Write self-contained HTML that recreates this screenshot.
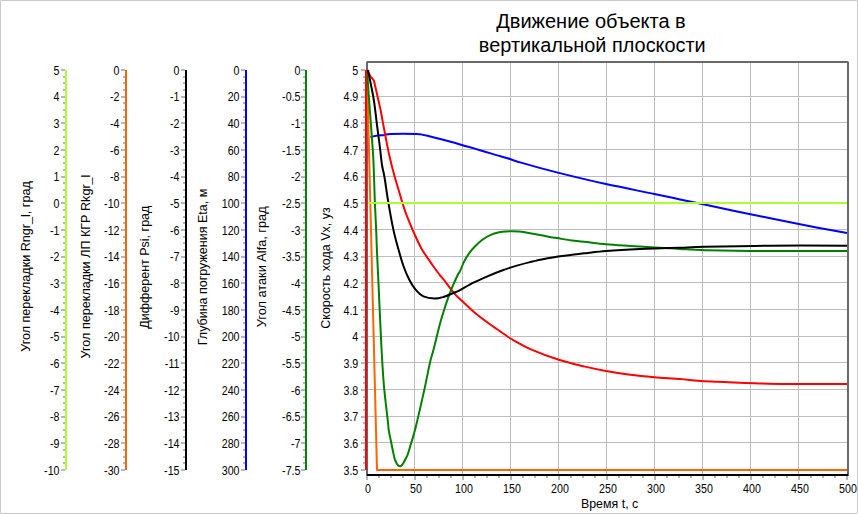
<!DOCTYPE html>
<html lang="ru"><head><meta charset="utf-8"><title>Движение объекта в вертикальной плоскости</title>
<style>
html,body{margin:0;padding:0;background:#fff;}
body{width:858px;height:514px;overflow:hidden;font-family:"Liberation Sans",Arial,sans-serif;}
svg{display:block;}
text{font-family:"Liberation Sans",Arial,sans-serif;fill:#000;}
.lb{font-size:10.67px;}
.at{font-size:12.5px;}
.tt{font-size:20px;}
</style></head><body>
<svg width="858" height="514" viewBox="0 0 858 514">
<rect x="0" y="0" width="858" height="514" fill="#ffffff"/>
<rect x="0.5" y="0.5" width="857" height="513" fill="none" stroke="#cbc9c9" stroke-width="1" shape-rendering="crispEdges"/>
<g fill="#e3e2e2" shape-rendering="crispEdges"><rect x="0" y="0" width="1" height="1"/><rect x="857" y="0" width="1" height="1"/><rect x="0" y="513" width="1" height="1"/><rect x="857" y="513" width="1" height="1"/></g>
<text class="tt" x="591" y="28" text-anchor="middle">Движение объекта в</text>
<text class="tt" x="592.3" y="52.3" text-anchor="middle" style="font-size:19.9px">вертикальной плоскости</text>
<g shape-rendering="crispEdges">
<rect x="368" y="96" width="479" height="1" fill="#bdbdbd"/>
<rect x="368" y="122" width="479" height="1" fill="#bdbdbd"/>
<rect x="368" y="149" width="479" height="1" fill="#bdbdbd"/>
<rect x="368" y="176" width="479" height="1" fill="#bdbdbd"/>
<rect x="368" y="202" width="479" height="1" fill="#bdbdbd"/>
<rect x="368" y="229" width="479" height="1" fill="#bdbdbd"/>
<rect x="368" y="256" width="479" height="1" fill="#bdbdbd"/>
<rect x="368" y="282" width="479" height="1" fill="#bdbdbd"/>
<rect x="368" y="309" width="479" height="1" fill="#bdbdbd"/>
<rect x="368" y="336" width="479" height="1" fill="#bdbdbd"/>
<rect x="368" y="362" width="479" height="1" fill="#bdbdbd"/>
<rect x="368" y="389" width="479" height="1" fill="#bdbdbd"/>
<rect x="368" y="416" width="479" height="1" fill="#bdbdbd"/>
<rect x="368" y="442" width="479" height="1" fill="#bdbdbd"/>
<rect x="414" y="63" width="1" height="411" fill="#bdbdbd"/>
<rect x="462" y="63" width="1" height="411" fill="#bdbdbd"/>
<rect x="510" y="63" width="1" height="411" fill="#bdbdbd"/>
<rect x="558" y="63" width="1" height="411" fill="#bdbdbd"/>
<rect x="606" y="63" width="1" height="411" fill="#bdbdbd"/>
<rect x="654" y="63" width="1" height="411" fill="#bdbdbd"/>
<rect x="702" y="63" width="1" height="411" fill="#bdbdbd"/>
<rect x="750" y="63" width="1" height="411" fill="#bdbdbd"/>
<rect x="798" y="63" width="1" height="411" fill="#bdbdbd"/>
</g>
<path d="M61 70H65M63 77H65M63 83H65M63 90H65M61 97H65M63 103H65M63 110H65M63 117H65M61 123H65M63 130H65M63 137H65M63 143H65M61 150H65M63 157H65M63 163H65M63 170H65M61 177H65M63 183H65M63 190H65M63 197H65M61 203H65M63 210H65M63 217H65M63 223H65M61 230H65M63 237H65M63 243H65M63 250H65M61 257H65M63 263H65M63 270H65M63 277H65M61 283H65M63 290H65M63 297H65M63 303H65M61 310H65M63 317H65M63 323H65M63 330H65M61 337H65M63 343H65M63 350H65M63 357H65M61 363H65M63 370H65M63 377H65M63 383H65M61 390H65M63 397H65M63 403H65M63 410H65M61 417H65M63 423H65M63 430H65M63 437H65M61 443H65M63 450H65M63 457H65M63 463H65M61 470H65" stroke="#707070" stroke-width="1" fill="none"/>
<rect x="65" y="70" width="2" height="400" fill="#adff2f" shape-rendering="crispEdges"/>
<path d="M121 70H125M123 77H125M123 83H125M123 90H125M121 97H125M123 103H125M123 110H125M123 117H125M121 123H125M123 130H125M123 137H125M123 143H125M121 150H125M123 157H125M123 163H125M123 170H125M121 177H125M123 183H125M123 190H125M123 197H125M121 203H125M123 210H125M123 217H125M123 223H125M121 230H125M123 237H125M123 243H125M123 250H125M121 257H125M123 263H125M123 270H125M123 277H125M121 283H125M123 290H125M123 297H125M123 303H125M121 310H125M123 317H125M123 323H125M123 330H125M121 337H125M123 343H125M123 350H125M123 357H125M121 363H125M123 370H125M123 377H125M123 383H125M121 390H125M123 397H125M123 403H125M123 410H125M121 417H125M123 423H125M123 430H125M123 437H125M121 443H125M123 450H125M123 457H125M123 463H125M121 470H125" stroke="#707070" stroke-width="1" fill="none"/>
<rect x="125" y="70" width="2" height="400" fill="#ff6400" shape-rendering="crispEdges"/>
<path d="M181 70H185M183 77H185M183 83H185M183 90H185M181 97H185M183 103H185M183 110H185M183 117H185M181 123H185M183 130H185M183 137H185M183 143H185M181 150H185M183 157H185M183 163H185M183 170H185M181 177H185M183 183H185M183 190H185M183 197H185M181 203H185M183 210H185M183 217H185M183 223H185M181 230H185M183 237H185M183 243H185M183 250H185M181 257H185M183 263H185M183 270H185M183 277H185M181 283H185M183 290H185M183 297H185M183 303H185M181 310H185M183 317H185M183 323H185M183 330H185M181 337H185M183 343H185M183 350H185M183 357H185M181 363H185M183 370H185M183 377H185M183 383H185M181 390H185M183 397H185M183 403H185M183 410H185M181 417H185M183 423H185M183 430H185M183 437H185M181 443H185M183 450H185M183 457H185M183 463H185M181 470H185" stroke="#707070" stroke-width="1" fill="none"/>
<rect x="185" y="70" width="2" height="400" fill="#000000" shape-rendering="crispEdges"/>
<path d="M241 70H245M243 77H245M243 83H245M243 90H245M241 97H245M243 103H245M243 110H245M243 117H245M241 123H245M243 130H245M243 137H245M243 143H245M241 150H245M243 157H245M243 163H245M243 170H245M241 177H245M243 183H245M243 190H245M243 197H245M241 203H245M243 210H245M243 217H245M243 223H245M241 230H245M243 237H245M243 243H245M243 250H245M241 257H245M243 263H245M243 270H245M243 277H245M241 283H245M243 290H245M243 297H245M243 303H245M241 310H245M243 317H245M243 323H245M243 330H245M241 337H245M243 343H245M243 350H245M243 357H245M241 363H245M243 370H245M243 377H245M243 383H245M241 390H245M243 397H245M243 403H245M243 410H245M241 417H245M243 423H245M243 430H245M243 437H245M241 443H245M243 450H245M243 457H245M243 463H245M241 470H245" stroke="#707070" stroke-width="1" fill="none"/>
<rect x="245" y="70" width="2" height="400" fill="#0000ff" shape-rendering="crispEdges"/>
<path d="M301 70H305M303 77H305M303 83H305M303 90H305M301 97H305M303 103H305M303 110H305M303 117H305M301 123H305M303 130H305M303 137H305M303 143H305M301 150H305M303 157H305M303 163H305M303 170H305M301 177H305M303 183H305M303 190H305M303 197H305M301 203H305M303 210H305M303 217H305M303 223H305M301 230H305M303 237H305M303 243H305M303 250H305M301 257H305M303 263H305M303 270H305M303 277H305M301 283H305M303 290H305M303 297H305M303 303H305M301 310H305M303 317H305M303 323H305M303 330H305M301 337H305M303 343H305M303 350H305M303 357H305M301 363H305M303 370H305M303 377H305M303 383H305M301 390H305M303 397H305M303 403H305M303 410H305M301 417H305M303 423H305M303 430H305M303 437H305M301 443H305M303 450H305M303 457H305M303 463H305M301 470H305" stroke="#707070" stroke-width="1" fill="none"/>
<rect x="305" y="70" width="2" height="400" fill="#008000" shape-rendering="crispEdges"/>
<path d="M361 70H365M363 77H365M363 83H365M363 90H365M361 97H365M363 103H365M363 110H365M363 117H365M361 123H365M363 130H365M363 137H365M363 143H365M361 150H365M363 157H365M363 163H365M363 170H365M361 177H365M363 183H365M363 190H365M363 197H365M361 203H365M363 210H365M363 217H365M363 223H365M361 230H365M363 237H365M363 243H365M363 250H365M361 257H365M363 263H365M363 270H365M363 277H365M361 283H365M363 290H365M363 297H365M363 303H365M361 310H365M363 317H365M363 323H365M363 330H365M361 337H365M363 343H365M363 350H365M363 357H365M361 363H365M363 370H365M363 377H365M363 383H365M361 390H365M363 397H365M363 403H365M363 410H365M361 417H365M363 423H365M363 430H365M363 437H365M361 443H365M363 450H365M363 457H365M363 463H365M361 470H365" stroke="#707070" stroke-width="1" fill="none"/>
<text class="lb" transform="translate(59.5,74.60) scale(1,1.17)" text-anchor="end">5</text>
<text class="lb" transform="translate(59.5,101.27) scale(1,1.17)" text-anchor="end">4</text>
<text class="lb" transform="translate(59.5,127.93) scale(1,1.17)" text-anchor="end">3</text>
<text class="lb" transform="translate(59.5,154.60) scale(1,1.17)" text-anchor="end">2</text>
<text class="lb" transform="translate(59.5,181.27) scale(1,1.17)" text-anchor="end">1</text>
<text class="lb" transform="translate(59.5,207.93) scale(1,1.17)" text-anchor="end">0</text>
<text class="lb" transform="translate(59.5,234.60) scale(1,1.17)" text-anchor="end">-1</text>
<text class="lb" transform="translate(59.5,261.27) scale(1,1.17)" text-anchor="end">-2</text>
<text class="lb" transform="translate(59.5,287.93) scale(1,1.17)" text-anchor="end">-3</text>
<text class="lb" transform="translate(59.5,314.60) scale(1,1.17)" text-anchor="end">-4</text>
<text class="lb" transform="translate(59.5,341.27) scale(1,1.17)" text-anchor="end">-5</text>
<text class="lb" transform="translate(59.5,367.93) scale(1,1.17)" text-anchor="end">-6</text>
<text class="lb" transform="translate(59.5,394.60) scale(1,1.17)" text-anchor="end">-7</text>
<text class="lb" transform="translate(59.5,421.27) scale(1,1.17)" text-anchor="end">-8</text>
<text class="lb" transform="translate(59.5,447.93) scale(1,1.17)" text-anchor="end">-9</text>
<text class="lb" transform="translate(59.5,474.60) scale(1,1.17)" text-anchor="end">-10</text>
<text class="at" style="font-size:12.6px" transform="translate(30,266.5) rotate(-90)" text-anchor="middle">Угол перекладки Rngr_l, град</text>
<text class="lb" transform="translate(119.5,74.60) scale(1,1.17)" text-anchor="end">0</text>
<text class="lb" transform="translate(119.5,101.27) scale(1,1.17)" text-anchor="end">-2</text>
<text class="lb" transform="translate(119.5,127.93) scale(1,1.17)" text-anchor="end">-4</text>
<text class="lb" transform="translate(119.5,154.60) scale(1,1.17)" text-anchor="end">-6</text>
<text class="lb" transform="translate(119.5,181.27) scale(1,1.17)" text-anchor="end">-8</text>
<text class="lb" transform="translate(119.5,207.93) scale(1,1.17)" text-anchor="end">-10</text>
<text class="lb" transform="translate(119.5,234.60) scale(1,1.17)" text-anchor="end">-12</text>
<text class="lb" transform="translate(119.5,261.27) scale(1,1.17)" text-anchor="end">-14</text>
<text class="lb" transform="translate(119.5,287.93) scale(1,1.17)" text-anchor="end">-16</text>
<text class="lb" transform="translate(119.5,314.60) scale(1,1.17)" text-anchor="end">-18</text>
<text class="lb" transform="translate(119.5,341.27) scale(1,1.17)" text-anchor="end">-20</text>
<text class="lb" transform="translate(119.5,367.93) scale(1,1.17)" text-anchor="end">-22</text>
<text class="lb" transform="translate(119.5,394.60) scale(1,1.17)" text-anchor="end">-24</text>
<text class="lb" transform="translate(119.5,421.27) scale(1,1.17)" text-anchor="end">-26</text>
<text class="lb" transform="translate(119.5,447.93) scale(1,1.17)" text-anchor="end">-28</text>
<text class="lb" transform="translate(119.5,474.60) scale(1,1.17)" text-anchor="end">-30</text>
<text class="at" style="font-size:12.6px" transform="translate(90,266.5) rotate(-90)" text-anchor="middle">Угол перекладки ЛП КГР Rkgr_l</text>
<text class="lb" transform="translate(179.5,74.60) scale(1,1.17)" text-anchor="end">0</text>
<text class="lb" transform="translate(179.5,101.27) scale(1,1.17)" text-anchor="end">-1</text>
<text class="lb" transform="translate(179.5,127.93) scale(1,1.17)" text-anchor="end">-2</text>
<text class="lb" transform="translate(179.5,154.60) scale(1,1.17)" text-anchor="end">-3</text>
<text class="lb" transform="translate(179.5,181.27) scale(1,1.17)" text-anchor="end">-4</text>
<text class="lb" transform="translate(179.5,207.93) scale(1,1.17)" text-anchor="end">-5</text>
<text class="lb" transform="translate(179.5,234.60) scale(1,1.17)" text-anchor="end">-6</text>
<text class="lb" transform="translate(179.5,261.27) scale(1,1.17)" text-anchor="end">-7</text>
<text class="lb" transform="translate(179.5,287.93) scale(1,1.17)" text-anchor="end">-8</text>
<text class="lb" transform="translate(179.5,314.60) scale(1,1.17)" text-anchor="end">-9</text>
<text class="lb" transform="translate(179.5,341.27) scale(1,1.17)" text-anchor="end">-10</text>
<text class="lb" transform="translate(179.5,367.93) scale(1,1.17)" text-anchor="end">-11</text>
<text class="lb" transform="translate(179.5,394.60) scale(1,1.17)" text-anchor="end">-12</text>
<text class="lb" transform="translate(179.5,421.27) scale(1,1.17)" text-anchor="end">-13</text>
<text class="lb" transform="translate(179.5,447.93) scale(1,1.17)" text-anchor="end">-14</text>
<text class="lb" transform="translate(179.5,474.60) scale(1,1.17)" text-anchor="end">-15</text>
<text class="at" style="font-size:12.5px" transform="translate(149,267.2) rotate(-90)" text-anchor="middle">Дифферент Psi, град</text>
<text class="lb" transform="translate(239.5,74.60) scale(1,1.17)" text-anchor="end">0</text>
<text class="lb" transform="translate(239.5,101.27) scale(1,1.17)" text-anchor="end">20</text>
<text class="lb" transform="translate(239.5,127.93) scale(1,1.17)" text-anchor="end">40</text>
<text class="lb" transform="translate(239.5,154.60) scale(1,1.17)" text-anchor="end">60</text>
<text class="lb" transform="translate(239.5,181.27) scale(1,1.17)" text-anchor="end">80</text>
<text class="lb" transform="translate(239.5,207.93) scale(1,1.17)" text-anchor="end">100</text>
<text class="lb" transform="translate(239.5,234.60) scale(1,1.17)" text-anchor="end">120</text>
<text class="lb" transform="translate(239.5,261.27) scale(1,1.17)" text-anchor="end">140</text>
<text class="lb" transform="translate(239.5,287.93) scale(1,1.17)" text-anchor="end">160</text>
<text class="lb" transform="translate(239.5,314.60) scale(1,1.17)" text-anchor="end">180</text>
<text class="lb" transform="translate(239.5,341.27) scale(1,1.17)" text-anchor="end">200</text>
<text class="lb" transform="translate(239.5,367.93) scale(1,1.17)" text-anchor="end">220</text>
<text class="lb" transform="translate(239.5,394.60) scale(1,1.17)" text-anchor="end">240</text>
<text class="lb" transform="translate(239.5,421.27) scale(1,1.17)" text-anchor="end">260</text>
<text class="lb" transform="translate(239.5,447.93) scale(1,1.17)" text-anchor="end">280</text>
<text class="lb" transform="translate(239.5,474.60) scale(1,1.17)" text-anchor="end">300</text>
<text class="at" style="font-size:12.5px" transform="translate(207,267) rotate(-90)" text-anchor="middle">Глубина погружения Eta, м</text>
<text class="lb" transform="translate(300.5,74.60) scale(1,1.17)" text-anchor="end">0</text>
<text class="lb" transform="translate(300.5,101.27) scale(1,1.17)" text-anchor="end">-0.5</text>
<text class="lb" transform="translate(300.5,127.93) scale(1,1.17)" text-anchor="end">-1</text>
<text class="lb" transform="translate(300.5,154.60) scale(1,1.17)" text-anchor="end">-1.5</text>
<text class="lb" transform="translate(300.5,181.27) scale(1,1.17)" text-anchor="end">-2</text>
<text class="lb" transform="translate(300.5,207.93) scale(1,1.17)" text-anchor="end">-2.5</text>
<text class="lb" transform="translate(300.5,234.60) scale(1,1.17)" text-anchor="end">-3</text>
<text class="lb" transform="translate(300.5,261.27) scale(1,1.17)" text-anchor="end">-3.5</text>
<text class="lb" transform="translate(300.5,287.93) scale(1,1.17)" text-anchor="end">-4</text>
<text class="lb" transform="translate(300.5,314.60) scale(1,1.17)" text-anchor="end">-4.5</text>
<text class="lb" transform="translate(300.5,341.27) scale(1,1.17)" text-anchor="end">-5</text>
<text class="lb" transform="translate(300.5,367.93) scale(1,1.17)" text-anchor="end">-5.5</text>
<text class="lb" transform="translate(300.5,394.60) scale(1,1.17)" text-anchor="end">-6</text>
<text class="lb" transform="translate(300.5,421.27) scale(1,1.17)" text-anchor="end">-6.5</text>
<text class="lb" transform="translate(300.5,447.93) scale(1,1.17)" text-anchor="end">-7</text>
<text class="lb" transform="translate(300.5,474.60) scale(1,1.17)" text-anchor="end">-7.5</text>
<text class="at" style="font-size:12.75px" transform="translate(265.5,266.8) rotate(-90)" text-anchor="middle">Угол атаки Alfa, град</text>
<text class="lb" transform="translate(358.3,74.60) scale(1,1.17)" text-anchor="end">5</text>
<text class="lb" transform="translate(358.3,101.27) scale(1,1.17)" text-anchor="end">4.9</text>
<text class="lb" transform="translate(358.3,127.93) scale(1,1.17)" text-anchor="end">4.8</text>
<text class="lb" transform="translate(358.3,154.60) scale(1,1.17)" text-anchor="end">4.7</text>
<text class="lb" transform="translate(358.3,181.27) scale(1,1.17)" text-anchor="end">4.6</text>
<text class="lb" transform="translate(358.3,207.93) scale(1,1.17)" text-anchor="end">4.5</text>
<text class="lb" transform="translate(358.3,234.60) scale(1,1.17)" text-anchor="end">4.4</text>
<text class="lb" transform="translate(358.3,261.27) scale(1,1.17)" text-anchor="end">4.3</text>
<text class="lb" transform="translate(358.3,287.93) scale(1,1.17)" text-anchor="end">4.2</text>
<text class="lb" transform="translate(358.3,314.60) scale(1,1.17)" text-anchor="end">4.1</text>
<text class="lb" transform="translate(358.3,341.27) scale(1,1.17)" text-anchor="end">4</text>
<text class="lb" transform="translate(358.3,367.93) scale(1,1.17)" text-anchor="end">3.9</text>
<text class="lb" transform="translate(358.3,394.60) scale(1,1.17)" text-anchor="end">3.8</text>
<text class="lb" transform="translate(358.3,421.27) scale(1,1.17)" text-anchor="end">3.7</text>
<text class="lb" transform="translate(358.3,447.93) scale(1,1.17)" text-anchor="end">3.6</text>
<text class="lb" transform="translate(358.3,474.60) scale(1,1.17)" text-anchor="end">3.5</text>
<text class="at" transform="translate(330,268) rotate(-90)" text-anchor="middle">Скорость хода Vx, уз</text>
<path d="M367 476V480M379 476V478M391 476V478M403 476V478M415 476V480M427 476V478M439 476V478M451 476V478M463 476V480M475 476V478M487 476V478M499 476V478M511 476V480M523 476V478M535 476V478M547 476V478M559 476V480M571 476V478M583 476V478M595 476V478M607 476V480M619 476V478M631 476V478M643 476V478M655 476V480M667 476V478M679 476V478M691 476V478M703 476V480M715 476V478M727 476V478M739 476V478M751 476V480M763 476V478M775 476V478M787 476V478M799 476V480M811 476V478M823 476V478M835 476V478M847 476V480" stroke="#707070" stroke-width="1" fill="none"/>
<text class="lb" transform="translate(368,493) scale(1,1.17)" text-anchor="middle">0</text>
<text class="lb" transform="translate(416,493) scale(1,1.17)" text-anchor="middle">50</text>
<text class="lb" transform="translate(464,493) scale(1,1.17)" text-anchor="middle">100</text>
<text class="lb" transform="translate(512,493) scale(1,1.17)" text-anchor="middle">150</text>
<text class="lb" transform="translate(560,493) scale(1,1.17)" text-anchor="middle">200</text>
<text class="lb" transform="translate(608,493) scale(1,1.17)" text-anchor="middle">250</text>
<text class="lb" transform="translate(656,493) scale(1,1.17)" text-anchor="middle">300</text>
<text class="lb" transform="translate(704,493) scale(1,1.17)" text-anchor="middle">350</text>
<text class="lb" transform="translate(752,493) scale(1,1.17)" text-anchor="middle">400</text>
<text class="lb" transform="translate(800,493) scale(1,1.17)" text-anchor="middle">450</text>
<text class="lb" transform="translate(848,493) scale(1,1.17)" text-anchor="middle">500</text>
<text style="font-size:12.4px" x="609.6" y="507.5" text-anchor="middle">Время t, c</text>
<g shape-rendering="crispEdges">
<rect x="366" y="61" width="483" height="2" fill="#696969"/>
<rect x="847" y="61" width="2" height="415" fill="#696969"/>
<rect x="366" y="61" width="2" height="415" fill="#696969"/>
<rect x="367" y="474" width="481" height="2" fill="#000"/>
<rect x="366" y="61" width="1" height="1" fill="#c4c4c4"/><rect x="848" y="61" width="1" height="1" fill="#c4c4c4"/>
</g>
<g>
<path d="M370.4 137.2C371.2 137.0 372.7 136.3 375.0 135.9C377.3 135.5 381.8 135.2 384.4 134.9C387.0 134.6 385.6 134.2 390.9 134.0C396.2 133.8 410.7 133.8 416.1 134.0C421.6 134.2 421.4 134.5 423.6 134.9C425.8 135.3 426.4 135.5 429.2 136.2C432.0 136.9 436.7 138.0 440.4 139.0C444.1 140.0 447.9 141.0 451.6 142.0C455.3 143.0 459.0 144.1 462.7 145.2C466.4 146.3 470.3 147.3 474.0 148.4C477.7 149.5 481.4 150.6 485.1 151.7C488.8 152.8 492.6 154.0 496.3 155.1C500.0 156.2 503.2 156.9 507.5 158.2C511.8 159.5 513.4 160.4 521.9 162.9C530.4 165.4 544.8 169.4 558.8 172.9C572.8 176.4 590.1 180.6 606.0 184.1C621.9 187.6 642.1 191.4 654.4 194.0C666.7 196.6 672.0 197.7 680.0 199.4C688.0 201.1 690.5 201.6 702.2 204.1C714.0 206.6 734.4 210.9 750.5 214.2C766.6 217.5 782.7 220.9 798.8 224.1C814.9 227.2 839.0 231.6 847.0 233.1" fill="none" stroke="#0000ff" stroke-width="2" stroke-linejoin="round"/>
<path d="M367.0 70.0L370.3 76.0L374.0 80.7L380.6 110.0C381.2 113.3 382.9 122.7 384.3 130.0C385.7 137.3 387.3 146.3 389.0 154.0C390.7 161.7 392.6 169.2 394.5 176.0C396.4 182.8 398.8 190.5 400.1 195.0C401.4 199.5 401.4 199.6 402.4 202.8C403.4 206.0 404.6 210.0 406.3 214.4C408.0 218.8 410.8 225.6 412.3 229.2C413.8 232.8 413.8 232.7 415.3 235.8C416.8 238.9 419.2 244.5 421.1 247.9C423.0 251.3 424.4 253.3 426.5 256.4C428.6 259.5 431.3 263.4 433.5 266.5C435.7 269.6 438.1 272.8 439.8 275.0C441.6 277.2 441.6 276.9 444.0 280.0C446.4 283.1 450.8 289.5 454.2 293.4C457.6 297.3 460.9 299.9 464.5 303.3C468.1 306.7 471.3 310.0 475.7 313.6C480.1 317.2 485.6 321.2 490.6 324.8C495.6 328.4 502.2 332.7 505.5 335.0C508.8 337.3 506.2 336.1 510.5 338.5C514.8 340.9 523.5 346.1 531.5 349.6C539.5 353.1 550.0 356.9 558.8 359.7C567.5 362.5 576.1 364.5 584.0 366.4C591.9 368.3 598.3 369.6 606.0 371.0C613.7 372.4 622.2 373.8 630.3 374.8C638.4 375.9 646.1 376.6 654.4 377.3C662.7 378.0 672.7 378.4 680.0 379.0C687.3 379.6 691.7 380.2 698.0 380.7C704.3 381.2 710.2 381.4 718.0 381.8C725.8 382.2 733.8 382.5 745.0 382.9C756.2 383.2 768.0 383.7 785.0 383.9C802.0 384.1 836.7 383.9 847.0 383.9" fill="none" stroke="#ff0000" stroke-width="2" stroke-linejoin="round"/>
<polyline points="367.0,70.0 377.0,470.0 847.0,470.0" fill="none" stroke="#ff6400" stroke-width="2" stroke-linejoin="round" stroke-linecap="butt"/>
<path d="M367.0 70.0L369.8 110.0C370.3 117.2 372.3 142.0 373.0 153.0C373.7 164.0 373.7 167.7 374.0 176.0C374.3 184.3 374.5 193.5 374.9 202.6C375.3 211.7 375.8 222.4 376.2 230.6C376.6 238.8 376.4 239.1 377.0 252.0C377.6 264.9 378.9 292.0 379.6 308.0C380.4 324.0 380.8 335.1 381.5 348.0C382.2 360.9 382.8 372.9 383.9 385.3C385.0 397.7 387.2 415.2 388.0 422.6C388.8 430.1 388.2 426.7 388.7 430.0C389.2 433.3 390.3 437.9 391.2 442.5C392.1 447.1 393.6 454.3 394.3 457.4C395.0 460.5 395.1 459.9 395.6 461.0C396.1 462.1 396.7 463.4 397.2 464.2C397.7 465.0 398.3 465.6 398.8 465.9C399.3 466.2 399.8 466.3 400.3 466.2C400.8 466.1 401.3 465.7 401.8 465.2C402.3 464.7 402.8 464.0 403.4 463.0C404.0 462.0 404.7 460.6 405.5 459.0C406.3 457.4 407.1 456.4 408.0 453.7C408.9 451.0 409.9 447.3 411.2 443.0C412.4 438.7 413.3 436.9 415.5 428.0C417.7 419.1 422.0 400.3 424.4 389.4C426.8 378.5 428.4 369.3 430.0 362.4C431.6 355.5 432.3 354.6 434.0 348.0C435.7 341.4 438.2 330.1 440.2 322.9C442.2 315.7 444.0 310.2 445.8 304.6C447.6 299.1 449.3 294.5 451.2 289.6C453.2 284.7 456.2 278.1 457.7 275.0C459.2 271.9 458.9 273.5 460.0 271.2C461.1 268.9 462.6 264.5 464.2 261.4C465.8 258.2 467.9 254.9 469.8 252.3C471.7 249.7 473.3 248.1 475.4 246.0C477.5 243.9 479.8 241.6 482.4 239.7C485.0 237.8 488.0 236.0 490.8 234.8C493.6 233.6 496.6 232.9 499.2 232.3C501.8 231.7 502.9 231.6 506.2 231.4C509.5 231.2 515.3 231.2 518.8 231.4C522.3 231.6 523.9 232.1 527.2 232.7C530.5 233.3 534.7 234.1 538.4 234.8C542.1 235.5 545.9 236.2 549.6 236.9C553.3 237.6 557.1 238.1 560.8 238.7C564.5 239.3 568.1 239.9 572.0 240.4C575.9 240.9 578.3 241.0 584.0 241.7C589.7 242.3 598.3 243.6 606.0 244.3C613.7 245.0 622.2 245.4 630.3 245.9C638.4 246.4 646.1 246.9 654.4 247.4C662.7 247.9 671.4 248.4 680.0 248.9C688.6 249.4 692.0 249.8 706.0 250.2C720.0 250.5 740.5 250.9 764.0 251.0C787.5 251.1 833.2 251.0 847.0 251.0" fill="none" stroke="#008000" stroke-width="2" stroke-linejoin="round"/>
<path d="M368.0 70.0L371.0 85.0C371.5 87.7 373.0 94.3 374.0 101.0C375.0 107.7 376.0 117.2 377.0 125.0C378.0 132.8 379.2 141.3 380.0 148.0C380.8 154.7 381.3 160.3 382.0 165.0C382.7 169.7 383.2 169.7 384.3 176.0C385.4 182.3 386.8 193.5 388.4 202.6C389.9 211.7 391.8 222.4 393.6 230.6C395.4 238.8 397.5 245.9 399.2 252.0C400.9 258.1 402.1 262.3 403.8 267.0C405.5 271.7 407.4 276.1 409.4 280.0C411.4 283.9 413.7 287.5 416.0 290.2C418.3 292.9 420.3 295.0 423.4 296.4C426.5 297.8 431.2 298.5 434.6 298.6C438.0 298.7 440.9 297.7 444.0 296.8C447.1 295.9 450.6 294.1 453.3 293.0C456.0 291.9 456.6 291.9 460.0 290.1C463.4 288.3 469.3 284.7 474.0 282.4C478.7 280.1 483.3 278.1 488.0 276.1C492.7 274.1 497.3 272.2 502.0 270.5C506.7 268.8 511.3 267.3 516.0 265.9C520.7 264.5 525.3 263.2 530.0 262.1C534.7 261.0 539.3 259.9 544.0 259.0C548.7 258.1 553.3 257.2 558.0 256.5C562.7 255.8 567.7 255.3 572.0 254.8C576.3 254.3 578.3 253.9 584.0 253.3C589.7 252.7 598.3 251.6 606.0 251.0C613.7 250.4 622.2 249.9 630.3 249.5C638.4 249.1 646.1 248.8 654.4 248.5C662.7 248.2 671.6 248.1 680.0 247.8C688.4 247.5 689.8 247.2 705.0 246.8C720.2 246.5 747.3 245.9 771.0 245.7C794.7 245.5 834.3 245.7 847.0 245.7" fill="none" stroke="#000000" stroke-width="2" stroke-linejoin="round"/>
<polyline points="368.0,203.0 847.0,203.0" fill="none" stroke="#adff2f" stroke-width="2" stroke-linejoin="round" stroke-linecap="butt"/>
</g>
<rect x="365" y="70" width="2" height="400" fill="#ff0000" shape-rendering="crispEdges"/>
</svg></body></html>
